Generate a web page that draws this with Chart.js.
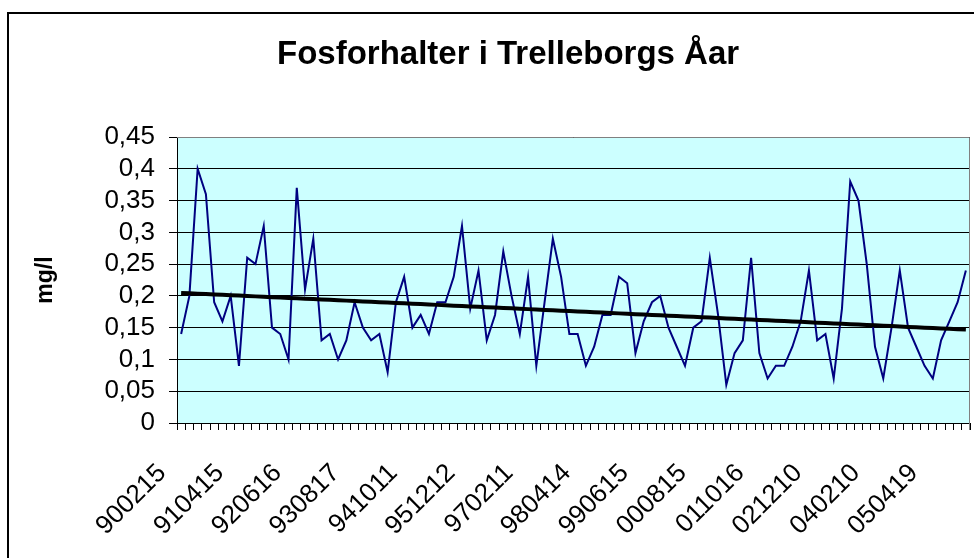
<!DOCTYPE html>
<html>
<head>
<meta charset="utf-8">
<script src="https://cdn.jsdelivr.net/npm/chart.js@4.4.0/dist/chart.umd.min.js"></script>
<style>
  html, body { margin: 0; padding: 0; background: #fff; }
</style>
</head>
<body>
<canvas id="fosforChart" width="974" height="558"></canvas>
<script>
// Sample dates written under the x axis (one every 7th sample)
const dateLabels = ['900215', '910415', '920616', '930817', '941011', '951212', '970211',
                    '980414', '990615', '000815', '011016', '021210', '040210', '050419'];
const labelStep = 7;

// Phosphorus concentration per sample, mg/l
const fosforValues = [
    0.14, 0.20, 0.40, 0.36, 0.19, 0.16, 0.20, 0.09, 0.26, 0.25,
    0.31, 0.15, 0.14, 0.10, 0.37, 0.21, 0.29, 0.13, 0.14, 0.10,
    0.13, 0.19, 0.15, 0.13, 0.14, 0.08, 0.19, 0.23, 0.15, 0.17,
    0.14, 0.19, 0.19, 0.23, 0.31, 0.18, 0.24, 0.13, 0.17, 0.27,
    0.20, 0.14, 0.23, 0.09, 0.19, 0.29, 0.23, 0.14, 0.14, 0.09,
    0.12, 0.17, 0.17, 0.23, 0.22, 0.11, 0.16, 0.19, 0.20, 0.15,
    0.12, 0.09, 0.15, 0.16, 0.26, 0.17, 0.06, 0.11, 0.13, 0.26,
    0.11, 0.07, 0.09, 0.09, 0.12, 0.16, 0.24, 0.13, 0.14, 0.07,
    0.18, 0.38, 0.35, 0.25, 0.12, 0.07, 0.15, 0.24, 0.15, 0.12,
    0.09, 0.07, 0.13, 0.16, 0.19, 0.24
];

// y axis range
const yMin = 0;
const yMax = 0.45;
const yStep = 0.05;

const fontFamily = "'Liberation Sans', Arial, sans-serif";

// Category labels: a date on every 7th sample, blank otherwise
const categories = fosforValues.map((v, i) => i % labelStep === 0 ? dateLabels[i / labelStep] : '');

// Linear trend (least squares), like Excel's linear trendline
function linearTrend(values) {
    const n = values.length;
    let sx = 0, sy = 0, sxy = 0, sxx = 0;
    values.forEach((v, i) => { sx += i; sy += v; sxy += i * v; sxx += i * i; });
    const b = (n * sxy - sx * sy) / (n * sxx - sx * sx);
    const a = (sy - b * sx) / n;
    return values.map((v, i) => a + b * i);
}

function commaNumber(v) {
    const r = Math.round(v * 100) / 100;
    return r === 0 ? '0' : String(r).replace('.', ',');
}

// background, plot area fill, outer frame, title
const excelLook = {
    id: 'excelLook',
    beforeDraw(chart) {
        const ctx = chart.ctx;
        const a = chart.chartArea;
        ctx.save();
        ctx.fillStyle = '#ffffff';
        ctx.fillRect(0, 0, chart.width, chart.height);
        ctx.fillStyle = '#ccffff';
        ctx.fillRect(a.left, a.top, a.right - a.left, a.bottom - a.top);
        ctx.strokeStyle = '#000';
        ctx.lineWidth = 2;
        ctx.strokeRect(8, 13, 1100, 700);
        ctx.restore();
    },
    afterDraw(chart) {
        const ctx = chart.ctx;
        const a = chart.chartArea;
        ctx.save();
        // plot area border (top and right) in grey
        ctx.strokeStyle = '#808080';
        ctx.lineWidth = 1;
        ctx.beginPath();
        ctx.moveTo(a.left, a.top + 0.5);
        ctx.lineTo(a.right - 0.5, a.top + 0.5);
        ctx.lineTo(a.right - 0.5, a.bottom + 7);
        ctx.stroke();
        ctx.fillStyle = '#000';
        ctx.font = 'bold 33px ' + fontFamily;
        ctx.textAlign = 'left';
        ctx.textBaseline = 'middle';
        ctx.fillText('Fosforhalter i Trelleborgs Åar', 277, 55);
        ctx.restore();
    }
};

const ctx = document.getElementById('fosforChart').getContext('2d');
new Chart(ctx, {
    type: 'line',
    data: {
        labels: categories,
        datasets: [{
            label: 'Fosfor',
            data: fosforValues,
            borderColor: '#000080',
            borderWidth: 2,
            pointRadius: 0,
            tension: 0,
            fill: false,
            order: 1
        }, {
            label: 'Linjär trend',
            data: linearTrend(fosforValues),
            borderColor: '#000000',
            borderWidth: 4,
            pointRadius: 0,
            tension: 0,
            fill: false,
            order: 0
        }]
    },
    options: {
        responsive: false,
        animation: false,
        devicePixelRatio: 1,
        layout: { padding: { top: 137, left: 0, right: 4, bottom: 0 } },
        plugins: {
            legend: { display: false },
            tooltip: { enabled: false },
            title: { display: false }
        },
        scales: {
            x: {
                offset: true,
                grid: { offset: true, drawOnChartArea: false, drawTicks: true, tickLength: 7, color: '#000' },
                border: { color: '#000', width: 1 },
                ticks: {
                    autoSkip: false,
                    maxRotation: 45,
                    minRotation: 45,
                    padding: 28,
                    labelOffset: -19,
                    color: '#000',
                    font: { family: fontFamily, size: 26 }
                },
                afterFit: s => {
                    s.height = 135;
                    s.paddingLeft = 0;
                    s.paddingRight = 0;
                }
            },
            y: {
                min: yMin,
                max: yMax,
                ticks: {
                    stepSize: yStep,
                    autoSkip: false,
                    padding: 14,
                    color: '#000',
                    font: { family: fontFamily, size: 26 },
                    callback: v => commaNumber(v)
                },
                grid: { color: '#000', lineWidth: 1, tickLength: 8 },
                border: { color: '#000', width: 1 },
                title: {
                    display: true,
                    text: 'mg/l',
                    color: '#000',
                    font: { family: fontFamily, size: 23, weight: 'bold' },
                    padding: { top: 32, bottom: 0 }
                },
                afterFit: s => {
                    s.width = 177;
                    s.paddingTop = 0;
                    s.paddingBottom = 0;
                }
            }
        }
    },
    plugins: [excelLook]
});
</script>
</body>
</html>
